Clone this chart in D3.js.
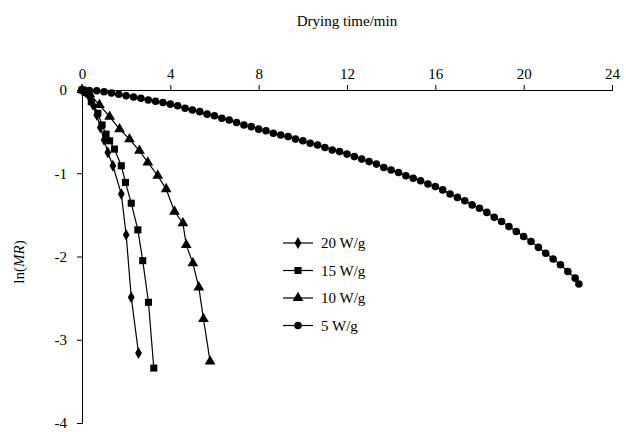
<!DOCTYPE html>
<html><head><meta charset="utf-8">
<script src="https://cdn.jsdelivr.net/npm/d3@7"></script>
<style>body{margin:0;background:#fff}text{font-family:"Liberation Serif","DejaVu Serif",serif}</style>
</head><body><svg width="626" height="432"></svg>
<script>
var xTicks = [0, 4, 8, 12, 16, 20, 24]
var yTicks = [0, -1, -2, -3, -4]

var t20 = [0, 0.17, 0.33, 0.5, 0.67, 0.83, 1.0, 1.17, 1.4, 1.78, 2.0, 2.23, 2.56]
var v20 = [0, -0.02, -0.08, -0.18, -0.3, -0.45, -0.6, -0.75, -0.91, -1.25, -1.74, -2.49, -3.16]
var t15 = [0, 0.2, 0.42, 0.72, 0.91, 1.09, 1.25, 1.47, 1.78, 1.97, 2.23, 2.53, 2.75, 3.01, 3.25]
var v15 = [0, -0.03, -0.14, -0.28, -0.42, -0.53, -0.61, -0.71, -0.91, -1.11, -1.36, -1.68, -2.05, -2.55, -3.34]
var t10 = [0, 0.35, 0.79, 1.25, 1.7, 2.15, 2.6, 2.98, 3.43, 3.81, 4.19, 4.57, 4.72, 5.02, 5.29, 5.5, 5.8]
var v10 = [0, -0.05, -0.18, -0.32, -0.47, -0.59, -0.73, -0.87, -1.03, -1.19, -1.46, -1.6, -1.86, -2.08, -2.37, -2.75, -3.26]
var v5 = [0,-0.005,-0.01,-0.02,-0.035,-0.05,-0.07,-0.085,-0.10,-0.12,-0.135,-0.15,-0.17,-0.19,-0.22,-0.24,-0.26,-0.29,-0.31,-0.34,-0.36,-0.39,-0.42,-0.44,-0.47,-0.49,-0.52,-0.54,-0.56,-0.59,-0.61,-0.64,-0.66,-0.69,-0.72,-0.74,-0.77,-0.80,-0.83,-0.86,-0.89,-0.93,-0.96,-0.99,-1.03,-1.06,-1.09,-1.13,-1.16,-1.20,-1.25,-1.29,-1.33,-1.38,-1.42,-1.47,-1.53,-1.58,-1.64,-1.70,-1.76,-1.82,-1.89,-1.96,-2.03,-2.10,-2.18,-2.26,-2.33]
var t5 = v5.map(function(d, i){ return i === 68 ? 22.5 : i / 3 })

var svg = d3.select("svg")
var x = d3.scaleLinear().domain([0, 24]).range([82, 612])
var y = d3.scaleLinear().domain([0, -4]).range([90, 423])

svg.append("g").attr("transform", "translate(0,90)")
  .call(d3.axisTop(x).tickValues(xTicks).tickSize(5).tickPadding(6).tickFormat(function(d){ return String(d) }))
svg.append("g").attr("transform", "translate(82,0)")
  .call(d3.axisLeft(y).tickValues(yTicks).tickSize(5).tickPadding(10).tickFormat(function(d){ return String(d) }))
svg.selectAll(".tick text").attr("font-size", 15).attr("fill", "#000")
svg.selectAll(".domain").attr("stroke", "#000")

svg.append("text").attr("x", 347).attr("y", 26).attr("text-anchor", "middle")
  .attr("font-size", 15).text("Drying time/min")
var yl = svg.append("text").attr("transform", "translate(24,262) rotate(-90)")
  .attr("text-anchor", "middle").attr("font-size", 15)
yl.append("tspan").text("ln(")
yl.append("tspan").attr("font-style", "italic").text("MR")
yl.append("tspan").text(")")

var series = [
  {name: "20 W/g", t: t20, v: v20, sym: d3.symbolDiamond, size: 40},
  {name: "15 W/g", t: t15, v: v15, sym: d3.symbolSquare, size: 50},
  {name: "10 W/g", t: t10, v: v10, sym: d3.symbolTriangle, size: 50},
  {name: "5 W/g", t: t5, v: v5, sym: d3.symbolCircle, size: 45}
]
var line = d3.line().x(function(d){ return x(d[0]) }).y(function(d){ return y(d[1]) })

series.forEach(function(s, k){
  var pts = s.t.map(function(t, i){ return [t, s.v[i]] })
  svg.append("path").datum(pts).attr("d", line).attr("fill", "none").attr("stroke", "#000").attr("stroke-width", 1.2)
  svg.selectAll(".m" + k).data(pts).enter().append("path")
    .attr("transform", function(d){ return "translate(" + x(d[0]) + "," + y(d[1]) + ")" })
    .attr("d", d3.symbol().type(s.sym).size(s.size))
  var ly = 243 + k * 27.5
  svg.append("line").attr("x1", 283).attr("x2", 313).attr("y1", ly).attr("y2", ly).attr("stroke", "#000").attr("stroke-width", 1.2)
  svg.append("path").attr("transform", "translate(298," + ly + ")").attr("d", d3.symbol().type(s.sym).size(s.size))
  svg.append("text").attr("x", 321).attr("y", ly + 5).attr("font-size", 15).text(s.name)
})
</script></body></html>
